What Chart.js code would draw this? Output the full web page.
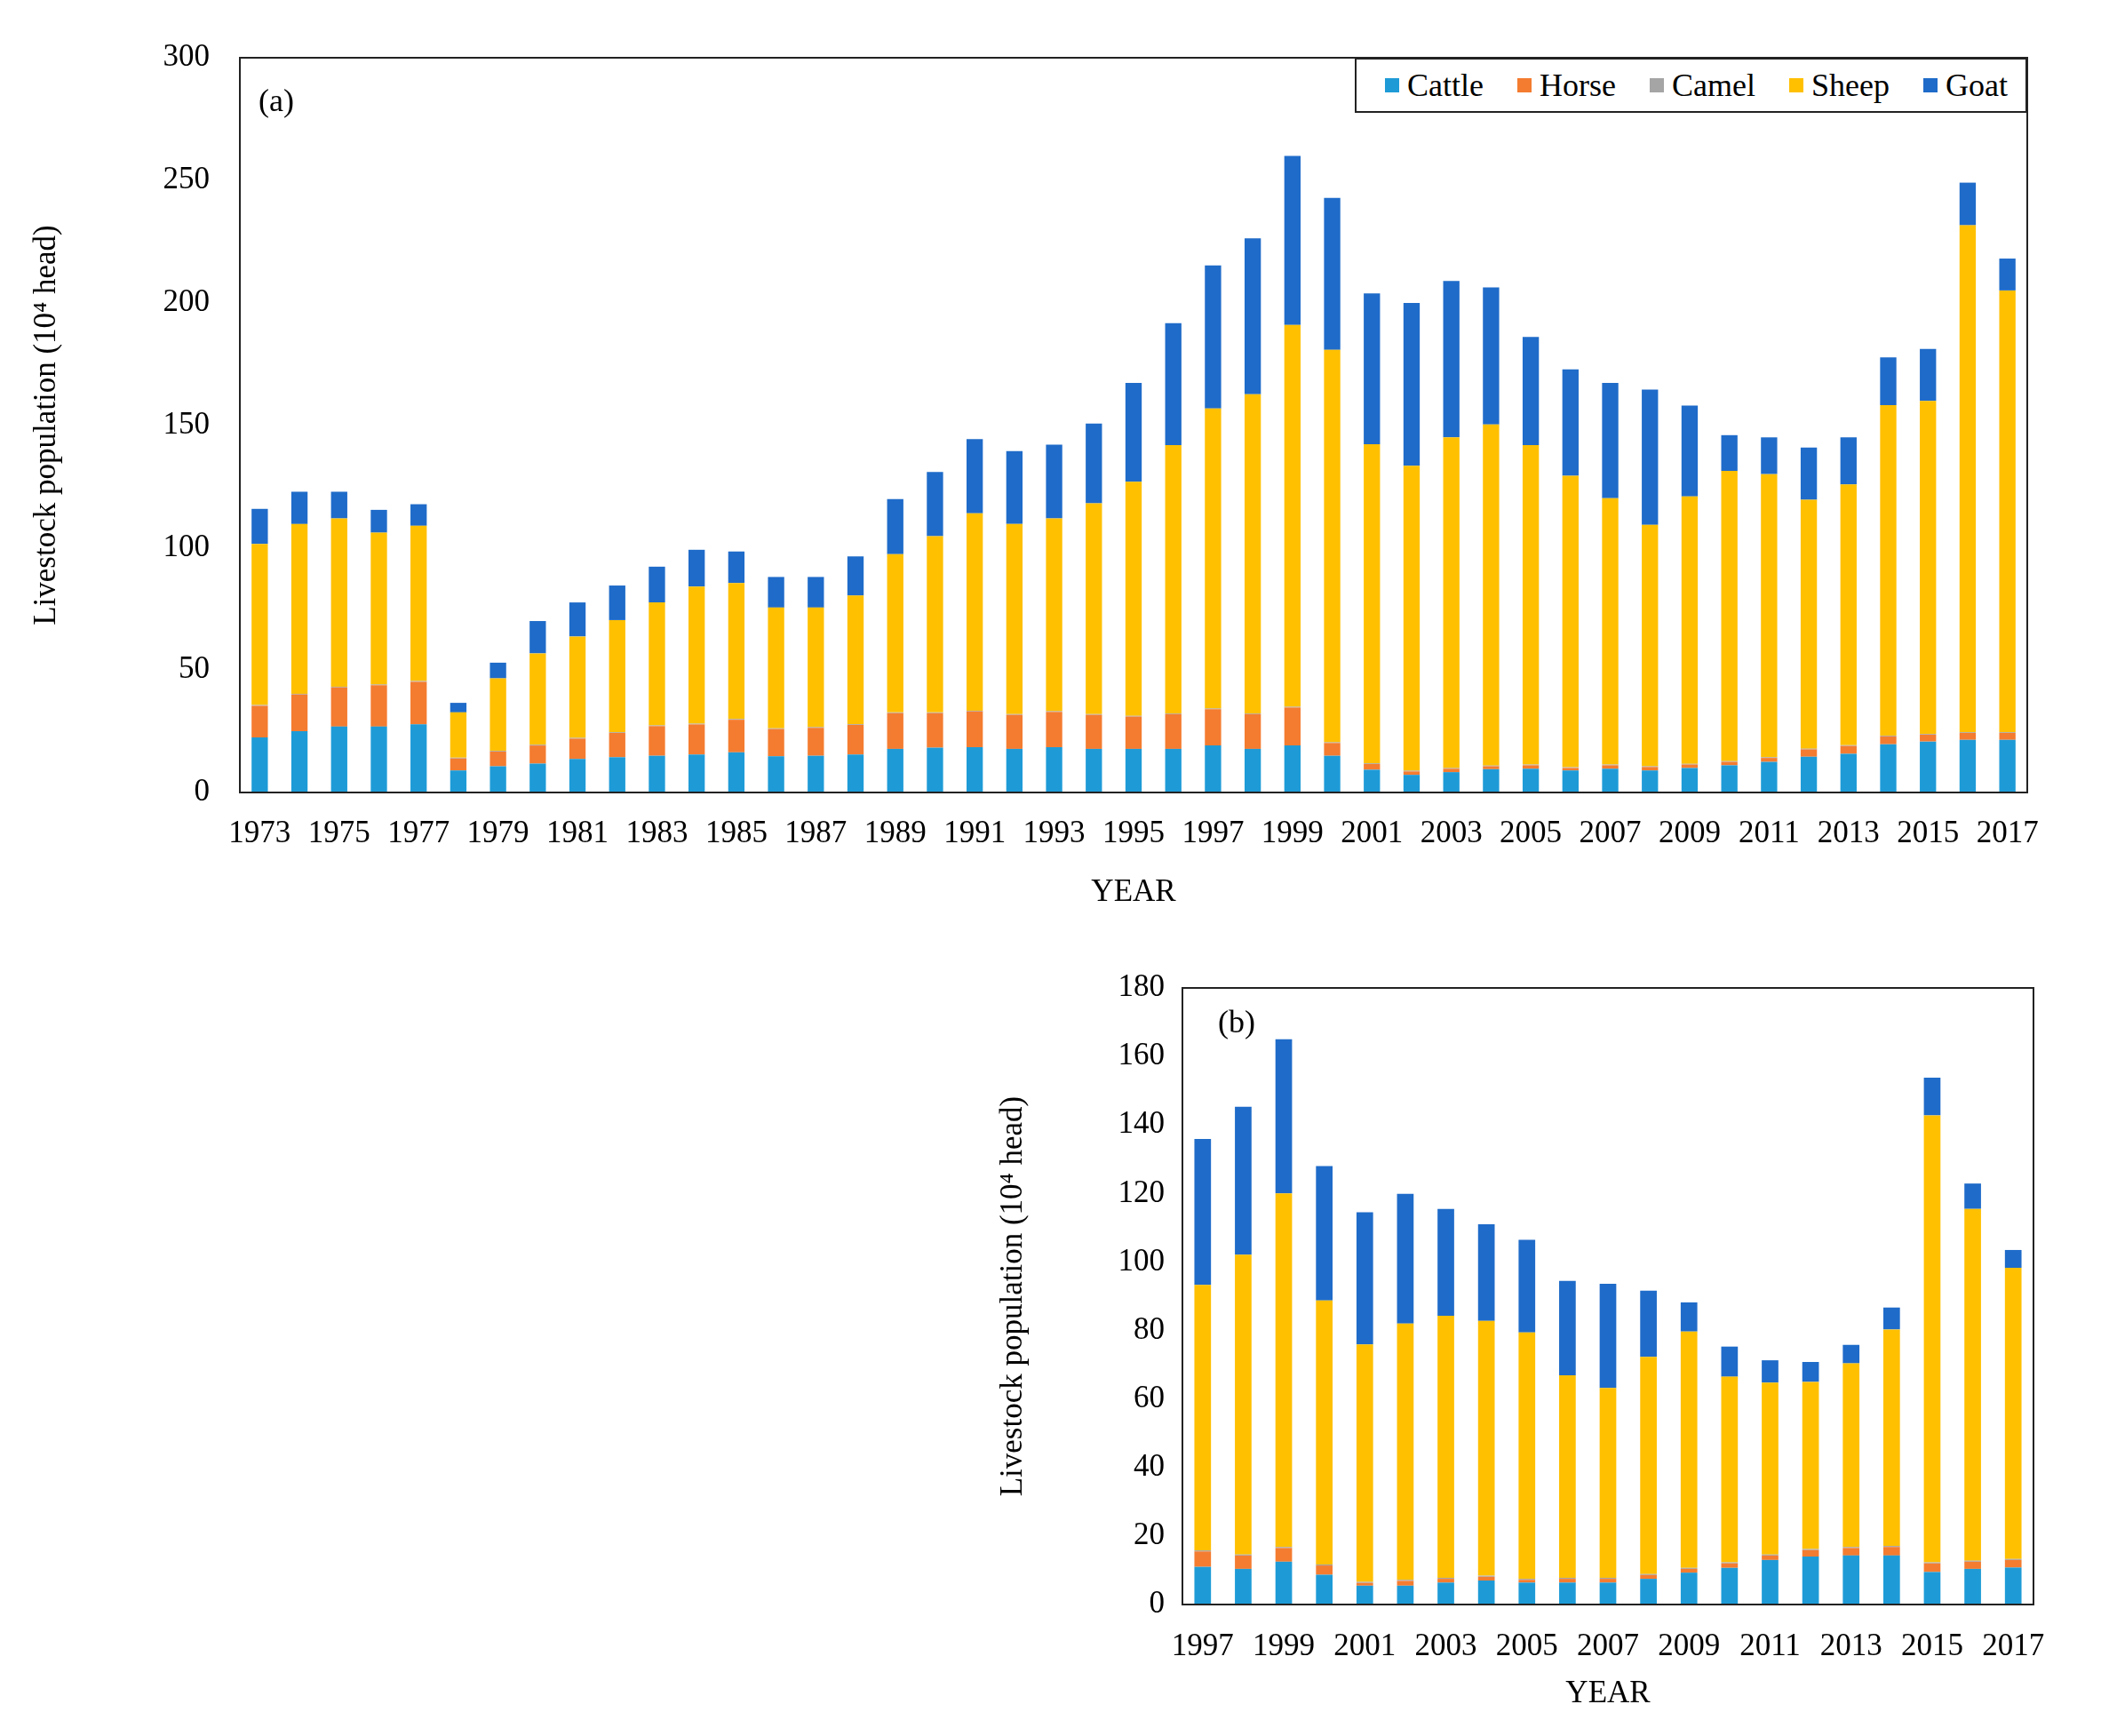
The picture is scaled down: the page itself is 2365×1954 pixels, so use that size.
<!DOCTYPE html>
<html>
<head>
<meta charset="utf-8">
<script src="https://cdn.jsdelivr.net/npm/chart.js@4.4.1/dist/chart.umd.min.js"></script>
<style>
  body { margin: 0; background: #fff; width: 2365px; height: 1954px; position: relative; overflow: hidden; }
  canvas { position: absolute; }
  #chartA { left: 0; top: 0; }
  #chartB { left: 1076px; top: 1055px; }
  .tag { position: absolute; font: 36px 'Liberation Serif', 'Times New Roman', serif; color: #000; }
  #legend {
    position: absolute; left: 1525px; top: 65px; width: 757px; height: 62px;
    box-sizing: border-box; border: 2px solid #222; background: #fff;
    display: flex; align-items: center; justify-content: flex-end; padding-right: 20px;
    font: 36px 'Liberation Serif', 'Times New Roman', serif; color: #000;
  }
  #legend span.item { display: flex; align-items: center; margin-left: 38px; }
  #legend span.box { width: 16px; height: 16px; margin-right: 9px; display: inline-block; }
</style>
</head>
<body>
<canvas id="chartA" width="2365" height="1040"></canvas>
<canvas id="chartB" width="1289" height="899"></canvas>
<div class="tag" style="left:291px; top:92px;">(a)</div>
<div class="tag" style="left:1371px; top:1129px;">(b)</div>
<div id="legend"></div>
<script>
// categories
const yearsA = ['1973','1974','1975','1976','1977','1978','1979','1980','1981','1982','1983','1984','1985','1986','1987',
                '1988','1989','1990','1991','1992','1993','1994','1995','1996','1997','1998','1999','2000','2001','2002',
                '2003','2004','2005','2006','2007','2008','2009','2010','2011','2012','2013','2014','2015','2016','2017'];
const yearsB = ['1997','1998','1999','2000','2001','2002','2003','2004','2005','2006','2007','2008','2009','2010',
                '2011','2012','2013','2014','2015','2016','2017'];

// (a) livestock, 10^4 head
const cattleA = [22.5, 25, 26.9, 26.9, 27.8, 9, 10.7, 11.8, 13.7, 14.4, 15, 15.5, 16.4, 14.8, 15,
                 15.5, 17.8, 18.3, 18.5, 17.8, 18.5, 17.8, 17.8, 17.8, 19.2, 17.8, 19.2, 15, 9.3, 7.2,
                 8.3, 9.5, 9.7, 9, 9.7, 9, 10, 11.1, 12.5, 14.6, 15.8, 19.7, 20.8, 21.5, 21.5];
const horseA = [12.9, 15, 16, 16.9, 17.4, 4.9, 6, 7.4, 8.3, 9.9, 12.1, 12.3, 13.3, 11.1, 11.4,
                12.1, 14.6, 14.1, 14.6, 13.9, 14.4, 13.9, 13.2, 14.2, 14.8, 14.2, 15.5, 5.2, 2.3, 1.4,
                1.4, 1.2, 1.4, 1.0, 1.4, 1.4, 1.4, 1.4, 1.6, 3.0, 3.2, 3.2, 2.8, 2.8, 2.8];
const camelA = [0.3, 0.3, 0.3, 0.3, 0.3, 0.3, 0.3, 0.3, 0.3, 0.3, 0.3, 0.3, 0.3, 0.3, 0.3,
                0.3, 0.3, 0.3, 0.3, 0.3, 0.3, 0.3, 0.3, 0.3, 0.3, 0.3, 0.3, 0.3, 0.3, 0.3,
                0.3, 0.3, 0.3, 0.3, 0.3, 0.3, 0.3, 0.3, 0.3, 0.3, 0.3, 0.3, 0.3, 0.3, 0.3];
const sheepA = [65.8, 69.3, 68.7, 62.0, 63.4, 18.5, 29.6, 37.3, 41.4, 45.8, 50.2, 56.0, 55.5, 49.3, 48.8,
                52.5, 64.6, 72.0, 80.6, 77.6, 78.7, 86.1, 95.6, 109.5, 122.5, 130.3, 155.9, 160.2, 130.3, 124.5,
                135.0, 139.3, 130.4, 119.0, 108.8, 98.6, 109.2, 118.5, 115.6, 101.6, 106.5, 135.0, 136.0, 207.0, 180.4];
const goatA = [14.3, 13.2, 10.9, 9.3, 8.8, 3.9, 6.4, 13.2, 13.9, 14.1, 14.6, 15.0, 12.9, 12.5, 12.5,
               16.0, 22.5, 26.2, 30.3, 29.8, 30.1, 32.5, 40.3, 49.8, 58.4, 63.7, 69.0, 62.1, 61.6, 66.5,
               63.9, 55.9, 44.2, 43.5, 47.0, 55.2, 37.1, 14.6, 15.0, 21.3, 19.2, 19.5, 21.2, 17.4, 13.0];

// (b)
const cattleB = [11, 10.4, 12.5, 8.7, 5.5, 5.5, 6.4, 7.0, 6.4, 6.4, 6.4, 7.5, 9.3, 10.7, 13.0, 14.0, 14.3, 14.3, 9.5, 10.4, 10.8];
const horseB = [4.5, 3.9, 4.0, 2.7, 0.8, 1.4, 1.1, 1.1, 0.8, 1.1, 1.1, 1.1, 1.1, 1.3, 1.3, 1.9, 2.2, 2.5, 2.5, 2.1, 2.2];
const camelB = [0.3, 0.3, 0.3, 0.3, 0.3, 0.3, 0.3, 0.3, 0.3, 0.3, 0.3, 0.3, 0.3, 0.3, 0.3, 0.3, 0.3, 0.3, 0.3, 0.3, 0.3];
const sheepB = [77.5, 87.5, 103.2, 77.1, 69.3, 74.8, 76.5, 74.4, 71.9, 59.1, 55.4, 63.4, 69.0, 54.2, 50.2, 48.8, 53.6, 63.2, 130.5, 102.7, 85.0];
const goatB = [42.6, 43.2, 45.0, 39.2, 38.6, 37.9, 31.2, 28.2, 27.1, 27.6, 30.4, 19.3, 8.5, 8.8, 6.5, 5.8, 5.4, 6.4, 11.0, 7.4, 5.2];

const names = ['Cattle', 'Horse', 'Camel', 'Sheep', 'Goat'];
const colors = ['#1e9bd7', '#f47c30', '#a5a5a5', '#ffc000', '#1f6bc9'];

Chart.defaults.font.family = "'Liberation Serif', 'Times New Roman', serif";
Chart.defaults.font.size = 35;
Chart.defaults.color = '#000';

// black box round the plot area
const frame = {
    id: 'frame',
    afterDraw(chart) {
        const a = chart.chartArea;
        const ctx = chart.ctx;
        ctx.save();
        ctx.strokeStyle = '#222';
        ctx.lineWidth = 2;
        ctx.strokeRect(a.left, a.top, a.right - a.left, a.bottom - a.top);
        ctx.restore();
    }
};

function makeChart(id, labels, series, opt) {
    return new Chart(document.getElementById(id), {
        type: 'bar',
        data: {
            labels: labels,
            datasets: series.map((d, i) => ({
                label: names[i],
                data: d,
                backgroundColor: colors[i],
                borderWidth: 0,
                barPercentage: 0.41,
                categoryPercentage: 1.0
            }))
        },
        options: {
            responsive: false,
            animation: false,
            devicePixelRatio: 1,
            layout: { padding: opt.padding },
            plugins: { legend: { display: false }, tooltip: { enabled: false } },
            scales: {
                x: {
                    stacked: true,
                    grid: { display: false, drawTicks: false },
                    border: { display: false },
                    ticks: {
                        autoSkip: false, maxRotation: 0, padding: opt.xPad,
                        callback: function (v, i) { return i % 2 === 0 ? this.getLabelForValue(v) : ''; }
                    },
                    title: { display: true, text: 'YEAR', font: { size: 35 }, padding: { top: 0, bottom: opt.yearPad } },
                    afterFit: s => { s.height = 148; }
                },
                y: {
                    stacked: true,
                    min: 0, max: opt.max,
                    grid: { display: false, drawTicks: false },
                    border: { display: false },
                    ticks: { stepSize: opt.step, padding: opt.yPad },
                    title: { display: true, text: 'Livestock population (10\u2074 head)', font: { size: 35 },
                             padding: { top: opt.titlePad, bottom: 0 } },
                    afterFit: s => { s.width = opt.yWidth; }
                }
            }
        },
        plugins: [frame]
    });
}

makeChart('chartA', yearsA, [cattleA, horseA, camelA, sheepA, goatA],
    { padding: { top: 65, right: 83, bottom: 0, left: 0 }, max: 300, step: 50,
      xPad: 26, yPad: 34, yearPad: 14, titlePad: 32, yWidth: 270 });
makeChart('chartB', yearsB, [cattleB, horseB, camelB, sheepB, goatB],
    { padding: { top: 57, right: 76, bottom: 0, left: 0 }, max: 180, step: 20,
      xPad: 27, yPad: 20, yearPad: 26, titlePad: 44, yWidth: 255 });

// legend built from the series names and colours
const legend = document.getElementById('legend');
names.forEach((n, i) => {
    const it = document.createElement('span');
    it.className = 'item';
    it.innerHTML = '<span class="box" style="background:' + colors[i] + '"></span>' + n;
    legend.appendChild(it);
});
</script>
</body>
</html>
